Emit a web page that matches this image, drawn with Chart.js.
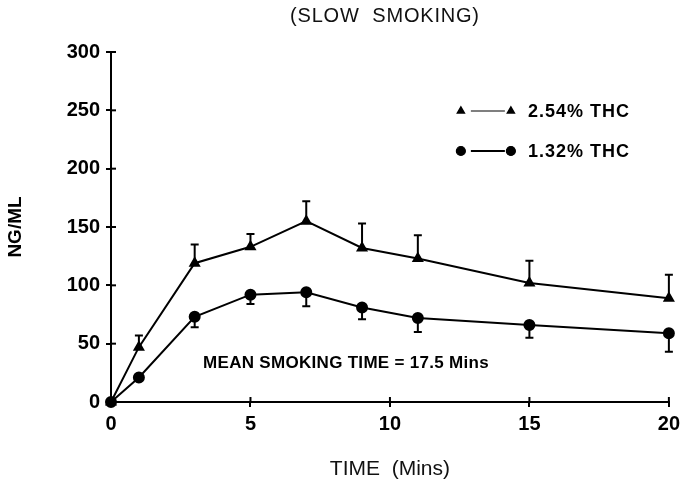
<!DOCTYPE html>
<html>
<head>
<meta charset="utf-8">
<script src="https://cdn.jsdelivr.net/npm/chart.js@4"></script>
<style>
  body { margin: 0; background: #fff; }
  canvas { display: block; }
</style>
</head>
<body>
<canvas id="chart" width="685" height="486"></canvas>
<script>
// time after start of smoking (mins)
const times = [0, 1, 3, 5, 7, 9, 11, 15, 20];
// 2.54% THC: mean and top of error bar
const thcHigh = [0, 47, 119, 133, 155, 132, 123, 102, 89];
const thcHighUpper = [0, 57, 135, 144, 172, 153, 143, 121, 109];
// 1.32% THC: mean and bottom of error bar
const thcLow = [0, 21, 73, 92, 94, 81, 72, 66, 59];
const thcLowLower = [0, 21, 64, 84, 82, 71, 60, 55, 43];
const seriesLabels = ["2.54% THC", "1.32% THC"];
const errorBounds = [thcHighUpper, thcLowLower];
const chartTitle = "(SLOW  SMOKING)";
const note = "MEAN SMOKING TIME = 17.5 Mins";
const notePos = { x: 3.3, y: 33 };

const FONT = "'Liberation Sans', Arial, sans-serif";

function toXY(ys) {
  return times.map((t, i) => ({ x: t, y: ys[i] }));
}

// title, error bars, inward tick halves, legend and note
const extras = {
  id: "extras",
  afterDatasetsDraw(chart) {
    const ctx = chart.ctx;
    const xs = chart.scales.x, ys = chart.scales.y;
    const area = chart.chartArea;
    ctx.save();
    ctx.strokeStyle = "#000";
    ctx.fillStyle = "#000";
    ctx.lineWidth = 2;

    // ticks also poke into the plot
    xs.ticks.forEach(t => {
      const px = xs.getPixelForValue(t.value);
      ctx.beginPath(); ctx.moveTo(px, area.bottom); ctx.lineTo(px, area.bottom - 5); ctx.stroke();
    });
    ys.ticks.forEach(t => {
      const py = ys.getPixelForValue(t.value);
      ctx.beginPath(); ctx.moveTo(area.left, py); ctx.lineTo(area.left + 5, py); ctx.stroke();
    });

    // error bars
    chart.data.datasets.forEach((ds, di) => {
      const meta = chart.getDatasetMeta(di);
      meta.data.forEach((pt, i) => {
        const b = errorBounds[di][i];
        if (b === ds.data[i].y) return;
        const by = ys.getPixelForValue(b);
        ctx.beginPath();
        ctx.moveTo(pt.x, pt.y); ctx.lineTo(pt.x, by);
        ctx.moveTo(pt.x - 4, by); ctx.lineTo(pt.x + 4, by);
        ctx.stroke();
      });
    });

    // legend: symbol — symbol  label
    const lx = area.right - 208;
    chart.data.datasets.forEach((ds, di) => {
      const y = area.top + 59 + di * 40;
      const r = di === 0 ? 3.5 : 4.5;
      const opts = { pointStyle: ds.pointStyle, radius: r, borderWidth: 1 };
      Chart.helpers.drawPoint(ctx, opts, lx, y);
      Chart.helpers.drawPoint(ctx, opts, lx + 50, y);
      ctx.fill();
      ctx.lineWidth = di === 0 ? 1.2 : 2;
      ctx.beginPath(); ctx.moveTo(lx + 10, y); ctx.lineTo(lx + 44, y); ctx.stroke();
      ctx.font = "bold 18px " + FONT;
      ctx.letterSpacing = "1px";
      ctx.textBaseline = "middle";
      ctx.fillText(seriesLabels[di], lx + 67, y + 1);
    });

    // note
    ctx.font = "bold 17px " + FONT;
    ctx.letterSpacing = "0.3px";
    ctx.textBaseline = "middle";
    ctx.fillText(note, xs.getPixelForValue(notePos.x), ys.getPixelForValue(notePos.y));

    // title above the plot
    ctx.font = "20px " + FONT;
    ctx.letterSpacing = "0.8px";
    ctx.fillStyle = "#111";
    ctx.textAlign = "center";
    ctx.fillText(chartTitle, (area.left + area.right) / 2 - 5, 16);
    ctx.restore();
  }
};

const pointColor = "#000";
new Chart(document.getElementById("chart"), {
  type: "scatter",
  data: {
    datasets: [{
      label: seriesLabels[0],
      data: toXY(thcHigh),
      showLine: true,
      clip: false,
      borderColor: "#000",
      borderWidth: 2,
      pointStyle: "triangle",
      pointRadius: 5,
      pointBackgroundColor: pointColor,
      pointBorderColor: pointColor
    }, {
      label: seriesLabels[1],
      data: toXY(thcLow),
      showLine: true,
      clip: false,
      borderColor: "#000",
      borderWidth: 2,
      pointStyle: "circle",
      pointRadius: 5,
      pointBackgroundColor: pointColor,
      pointBorderColor: pointColor
    }]
  },
  options: {
    responsive: false,
    animation: false,
    layout: { padding: { top: 52, right: 15 } },
    plugins: {
      legend: { display: false },
      tooltip: { enabled: false },
      title: { display: false }
    },
    scales: {
      x: {
        type: "linear",
        min: 0, max: 20,
        afterFit(s) { s.height = 84; },
        ticks: { stepSize: 5, color: "#000", padding: 5, font: { family: FONT, size: 20, weight: "bold" } },
        grid: { drawOnChartArea: false, tickLength: 5, color: "#000", lineWidth: 2 },
        border: { color: "#000", width: 2 },
        title: {
          display: true, text: "TIME  (Mins)", color: "#111",
          font: { family: FONT, size: 21, weight: "normal" }, padding: { top: 14 }
        }
      },
      y: {
        min: 0, max: 300,
        afterFit(s) { s.width = 111; },
        ticks: { stepSize: 50, color: "#000", padding: 6, font: { family: FONT, size: 20, weight: "bold" } },
        grid: { drawOnChartArea: false, tickLength: 5, color: "#000", lineWidth: 2 },
        border: { color: "#000", width: 2 },
        title: {
          display: true, text: "NG/ML", color: "#000",
          font: { family: FONT, size: 19, weight: "bold" }, padding: { top: 4, bottom: 0 }
        }
      }
    }
  },
  plugins: [extras]
});
</script>
</body>
</html>
